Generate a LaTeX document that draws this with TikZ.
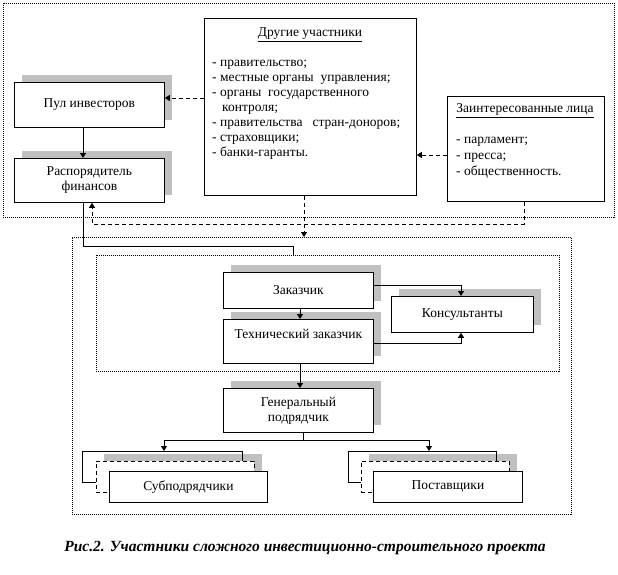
\documentclass[tikz,border=0pt]{standalone}
\usepackage{fontspec}
\setmainfont{Liberation Serif}
\usetikzlibrary{arrows.meta,shadows}
\definecolor{shgray}{HTML}{C0C0C0}
\begin{document}
\begin{tikzpicture}[x=1pt,y=-1pt,
  every node/.style={font=\fontsize{13.5}{15}\selectfont},
  box/.style={draw, fill=white, line width=0.8pt, inner sep=0pt, anchor=north west, align=center},
  shbox/.style={box, drop shadow={shadow xshift=8pt, shadow yshift=7pt, fill=shgray, opacity=1}},
  frame/.style={draw, line width=0.8pt, dash pattern=on 1pt off 1pt, inner sep=0pt, anchor=north west},
  con/.style={line width=0.8pt},
  dsh/.style={line width=0.8pt, dash pattern=on 4pt off 3pt},
  dbox/.style={box, dash pattern=on 4pt off 3pt},
  arr/.style={-{Triangle[width=6pt,length=5pt]}},
  txt/.style={inner sep=0pt, anchor=base west},
]
\useasboundingbox (0,0) rectangle (618,575);

% frames
\node[frame, minimum width=611pt, minimum height=214pt] (topframe) at (3,3) {};
\node[frame, minimum width=499pt, minimum height=277pt] (lowframe) at (72,237) {};
\node[frame, minimum width=463pt, minimum height=116pt] (inframe) at (96,255) {};

% top row
\node[shbox, minimum width=150pt, minimum height=45pt] (pool) at (14,82) {Пул инвесторов};
\node[shbox, minimum width=150pt, minimum height=44pt] (rasp) at (14,158) {Распорядитель\\финансов};

\node[box, minimum width=212pt, minimum height=177pt] (other) at (204,18) {};
\node[inner sep=0pt, anchor=base] (otitle) at (310,37) {\underline{Другие участники}};
\node[txt] (o1) at (212,67) {- правительство;};
\node[txt] (o2) at (212,82) {- местные органы\ \ управления;};
\node[txt] (o3) at (212,97) {- органы\ \ государственного};
\node[txt] (o4) at (222,112) {контроля;};
\node[txt] (o5) at (212,127) {- правительства\ \ \ стран-доноров;};
\node[txt] (o6) at (212,142) {- страховщики;};
\node[txt] (o7) at (212,157) {- банки-гаранты.};

\node[box, minimum width=157pt, minimum height=105pt] (zaint) at (447,96) {};
\node[inner sep=0pt, anchor=base] (ztitle) at (525,113) {\underline{Заинтересованные лица}};
\node[txt] (z1) at (456,143) {- парламент;};
\node[txt] (z2) at (456,159) {- пресса;};
\node[txt] (z3) at (456,175) {- общественность.};

% lower part
\node[shbox, minimum width=150pt, minimum height=36pt] (zak) at (223,272) {Заказчик};
\node[shbox, minimum width=150pt, minimum height=44pt] (tech) at (223,319) {Технический заказчик\\\mbox{}};
\node[shbox, minimum width=142pt, minimum height=36pt] (cons) at (391,296) {Консультанты};
\node[shbox, minimum width=150pt, minimum height=44pt] (gen) at (223,388) {Генеральный\\подрядчик};

% subcontractors stack
\fill[shgray] (104,454) rectangle (262,485);
\node[box, fill=none, minimum width=160pt, minimum height=31pt] (subback) at (82,451) {};
\node[dbox, minimum width=158pt, minimum height=31pt] (submid) at (96,461) {};
\node[box, minimum width=158pt, minimum height=31pt] (sub) at (109,471) {Субподрядчики};

% suppliers stack
\fill[shgray] (369,454) rectangle (517,485);
\node[box, fill=none, minimum width=148pt, minimum height=31pt] (supback) at (348,451) {};
\node[dbox, minimum width=148pt, minimum height=31pt] (supmid) at (361,461) {};
\node[box, minimum width=149pt, minimum height=31pt] (sup) at (373,471) {Поставщики};

% helper coordinates
\coordinate (xa) at (83,0);
\coordinate (ya) at (0,98);
\coordinate (yb) at (0,155);
\coordinate (xo) at (304,0);
\coordinate (jd) at (92,224);
\coordinate (jr) at (293,246);
\coordinate (xz) at (300,0);
\coordinate (yz1) at (0,285);
\coordinate (yz2) at (0,343);
\coordinate (xk) at (461,0);
\coordinate (split) at (303,440);
\coordinate (xs) at (164,0);
\coordinate (xp) at (429,0);
\coordinate (xq) at (524,0);

% connectors
\draw[con,arr] (pool.south -| xa) -- (rasp.north -| xa);
\draw[dsh,arr] (other.west |- ya) -- (pool.east |- ya);
\draw[dsh,arr] (zaint.west |- yb) -- (other.east |- yb);
\draw[dsh,arr] (other.south -| xo) -- (lowframe.north -| xo);
\draw[dsh,arr] (zaint.south -| xq) |- (jd) -- (rasp.south -| jd);
\draw[con] (rasp.south -| xa) |- (jr) -- (inframe.north -| jr);
\draw[con,arr] (zak.south -| xz) -- (tech.north -| xz);
\draw[con,arr] (zak.east |- yz1) -| (cons.north -| xk);
\draw[con,arr] (tech.east |- yz2) -| (cons.south -| xk);
\draw[con,arr] (tech.south -| xz) -- (gen.north -| xz);
\draw[con] (gen.south -| split) -- (split);
\draw[con,arr] (split) -| (subback.north -| xs);
\draw[con,arr] (split) -| (supback.north -| xp);

% caption
\node[font=\fontsize{15.5}{17}\selectfont\bfseries\itshape] (cap) at (305,548) {Рис.2. Участники сложного инвестиционно-строительного проекта};
\end{tikzpicture}
\end{document}
